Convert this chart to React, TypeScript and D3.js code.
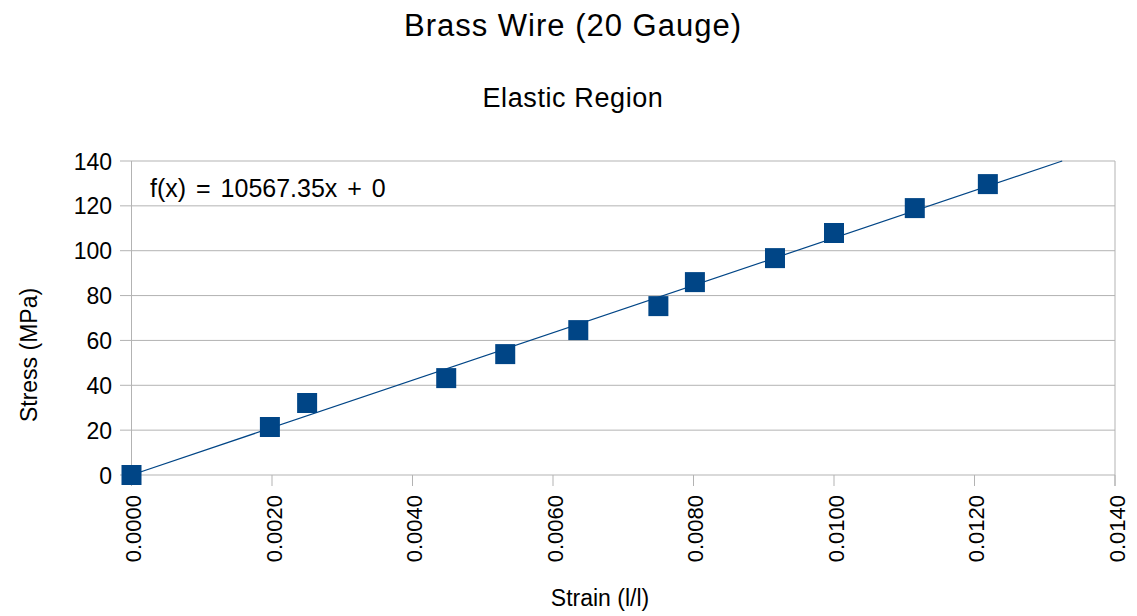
import React from "react";
import * as d3 from "d3";

const strain = [0, 0.00197, 0.0025, 0.00448, 0.00532, 0.00636, 0.0075, 0.00802, 0.00916, 0.01, 0.01115, 0.01219];
const stress = [0, 21.4, 32.1, 43.2, 53.9, 64.6, 75.3, 86, 96.7, 107.9, 119, 129.7];
const xTicks = [0, 0.002, 0.004, 0.006, 0.008, 0.01, 0.012, 0.014];
const yTicks = [0, 20, 40, 60, 80, 100, 120, 140];
const slope = 10567.35;
const intercept = 0;

const W = 1137, H = 616;
const left = 131.5, right = 1115, top = 161, bottom = 475;
const color = "#004586";
const font = "'Liberation Sans', Arial, sans-serif";

export default function App() {
  const x = d3.scaleLinear().domain([0, 0.014]).range([left, right]);
  const y = d3.scaleLinear().domain([0, 140]).range([bottom, top]);
  const xEnd = Math.min(0.014, (140 - intercept) / slope);
  const line = d3.line<number>().x((d) => x(d)).y((d) => y(slope * d + intercept));
  return (
    <svg width={W} height={H} style={{ position: "absolute", left: 0, top: 0, background: "#fff" }} fontFamily={font}>
      <rect x={0} y={0} width={W} height={H} fill="#fff" />
      <text x={573} y={36} textAnchor="middle" fontSize={31} letterSpacing={1}>Brass Wire (20 Gauge)</text>
      <text x={573} y={107} textAnchor="middle" fontSize={27} letterSpacing={0.6}>Elastic Region</text>
      {yTicks.map((t) => (
        <g key={t}>
          <line x1={120} x2={right} y1={y(t)} y2={y(t)} stroke="#b3b3b3" strokeWidth={1} />
          <text x={112} y={y(t) + 8.5} textAnchor="end" fontSize={23}>{t}</text>
        </g>
      ))}
      {xTicks.map((t) => (
        <g key={t}>
          <line x1={x(t)} x2={x(t)} y1={bottom} y2={486} stroke="#b3b3b3" strokeWidth={1} />
          <text transform={`translate(${x(t) + 9.5},495) rotate(-90)`} textAnchor="end" fontSize={22}>{t.toFixed(4)}</text>
        </g>
      ))}
      <line x1={left} x2={left} y1={top} y2={bottom} stroke="#b3b3b3" />
      <line x1={right} x2={right} y1={top} y2={486} stroke="#b3b3b3" />
      <path d={line([0, xEnd]) ?? ""} stroke={color} strokeWidth={1.2} fill="none" />
      {strain.map((s, i) => (
        <rect key={i} x={x(s) - 10} y={y(stress[i]) - 10} width={20} height={20} fill={color} />
      ))}
      <text x={150} y={197} fontSize={25} wordSpacing={3}>f(x) = 10567.35x + 0</text>
      <text transform="translate(37,355) rotate(-90)" textAnchor="middle" fontSize={23}>Stress (MPa)</text>
      <text x={600} y={606} textAnchor="middle" fontSize={23}>Strain (l/l)</text>
    </svg>
  );
}
